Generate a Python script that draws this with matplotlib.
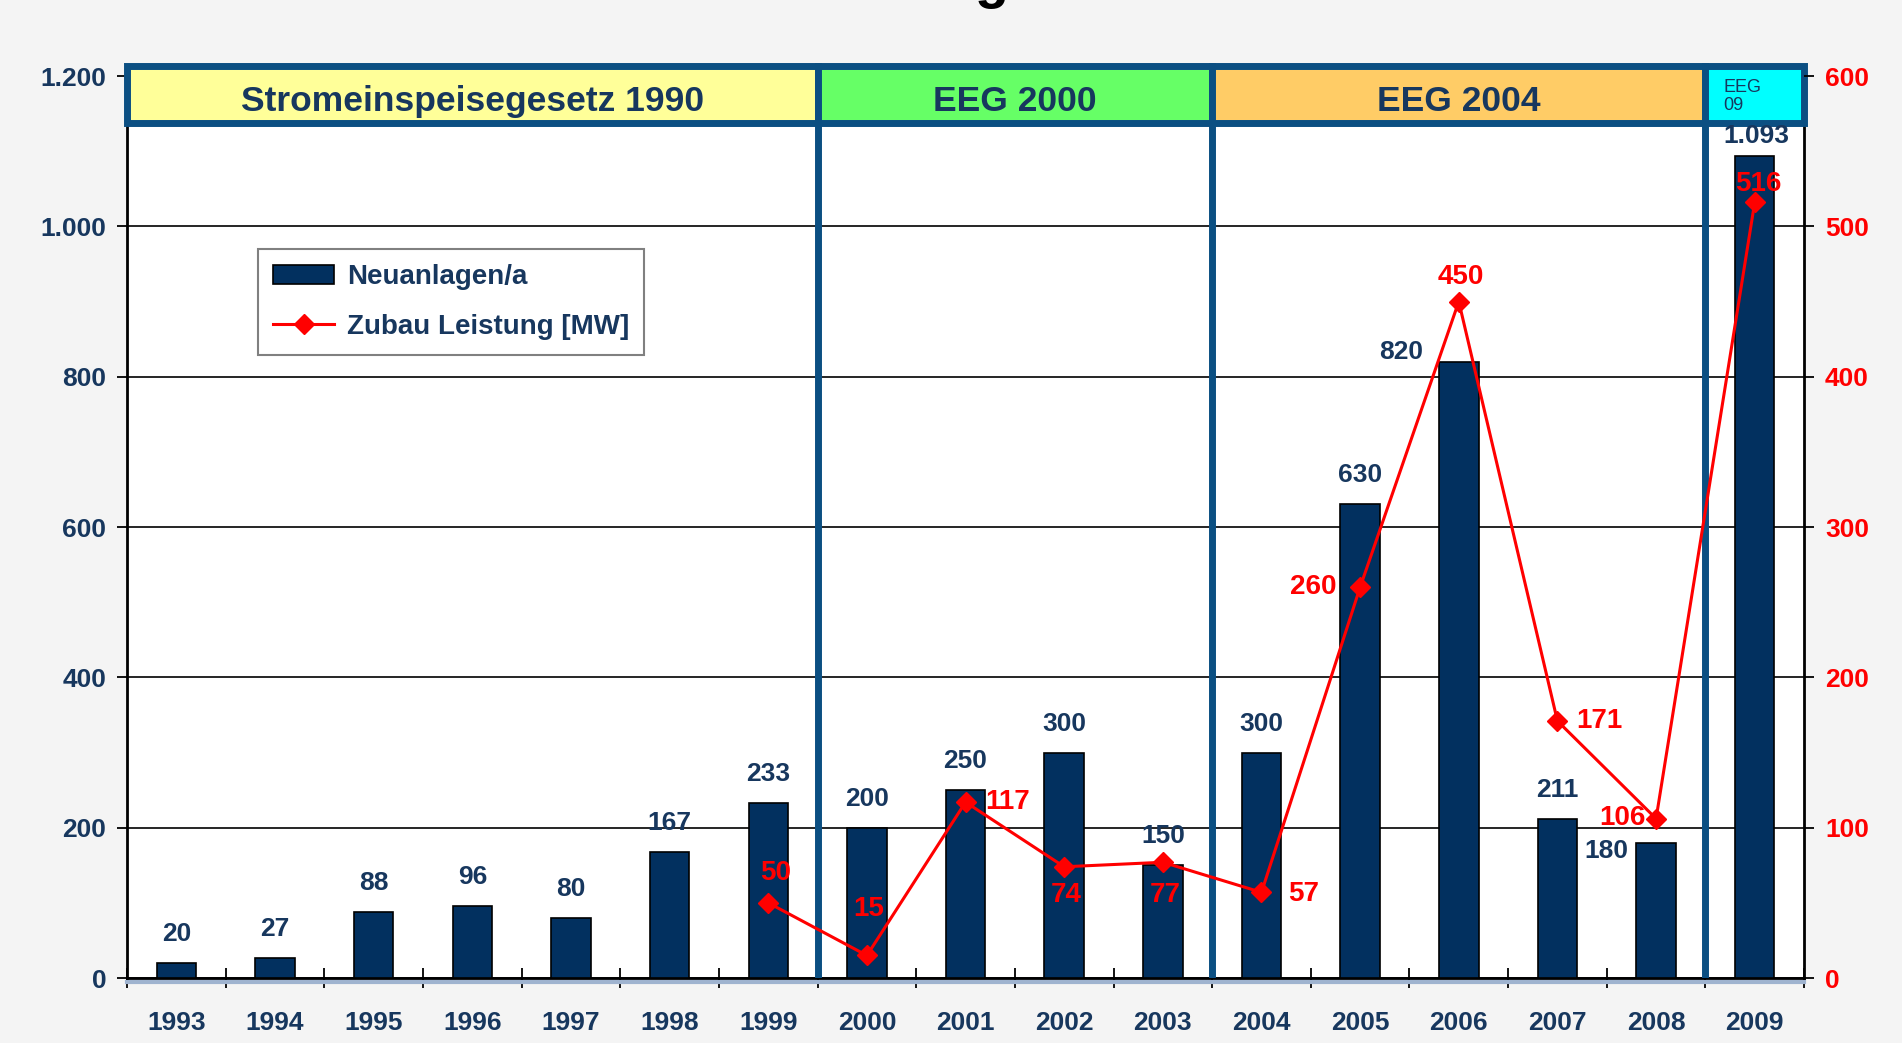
import numpy as np
import matplotlib.pyplot as plt
from matplotlib.patches import Rectangle, Patch
from matplotlib.lines import Line2D
from matplotlib.ticker import FuncFormatter

# data
years = ["1993", "1994", "1995", "1996", "1997", "1998", "1999", "2000", "2001",
         "2002", "2003", "2004", "2005", "2006", "2007", "2008", "2009"]
neuanlagen = [20, 27, 88, 96, 80, 167, 233, 200, 250, 300, 150, 300, 630, 820,
              211, 180, 1093]

zubau_years = ["1999", "2000", "2001", "2002", "2003", "2004", "2005", "2006",
               "2007", "2008", "2009"]
zubau_mw = [50, 15, 117, 74, 77, 57, 260, 450, 171, 106, 516]

phase_labels = ["Stromeinspeisegesetz 1990", "EEG 2000", "EEG 2004", "EEG\n09"]
phase_first = ["1993", "2000", "2004", "2009"]
phase_last = ["1999", "2003", "2008", "2009"]
phase_colors = ["#ffff99", "#66ff66", "#ffcc66", "#00ffff"]

# label placement (pixels, relative to top of bar / marker)
bar_label_off = {"2006": (-58, 10), "2008": (-50, -8), "2009": (2, 20)}
line_label_off = {"1999": (7, 30), "2000": (2, 46), "2001": (42, 0),
                  "2002": (2, -28), "2003": (2, -33), "2004": (42, -2),
                  "2005": (-47, 0), "2006": (2, 25), "2007": (42, 0),
                  "2008": (-34, 1), "2009": (4, 18)}

navy = "#17375e"
bar_col = "#02305f"
border = "#0b4f82"
red = "#ff0000"

plt.rcParams['font.family'] = ['Liberation Sans', 'DejaVu Sans']


def de_fmt(v, pos=None):
    return f"{int(round(v)):,}".replace(",", ".")


fig = plt.figure(figsize=(19.02, 10.43), dpi=100, facecolor="#f4f4f4")
ax = fig.add_axes([0.0668, 0.0623, 0.8817, 0.8648])
ax.set_facecolor("white")

x = np.arange(len(years))
ax.bar(x, neuanlagen, width=0.4, color=bar_col, edgecolor="black",
       linewidth=1.2, zorder=3)
ax.set_xlim(-0.5, len(years) - 0.5)
ax.set_ylim(0, 1200)
ax.set_yticks(np.arange(0, 1201, 200))
ax.yaxis.set_major_formatter(FuncFormatter(de_fmt))
ax.yaxis.grid(True, color="black", linewidth=1.2, zorder=0)
ax.set_axisbelow(True)

# x ticks at category boundaries, labels in the middle
ax.set_xticks(np.arange(-0.5, len(years), 1))
ax.set_xticklabels([])
ax.set_xticks(x, minor=True)
ax.set_xticklabels(years, minor=True, fontsize=19, fontweight="bold", color=navy)
ax.tick_params(axis="x", which="major", direction="inout", length=14, width=1.3)
ax.tick_params(axis="x", which="minor", length=0, pad=24)
ax.tick_params(axis="y", direction="out", length=7, width=1.3, pad=8,
               labelsize=19, labelcolor=navy)
for t in ax.get_yticklabels():
    t.set_fontweight("bold")

for s in ["left", "right", "bottom"]:
    ax.spines[s].set_linewidth(2)
    ax.spines[s].set_color("black")
ax.spines["top"].set_visible(False)
# soft shadow under the base line
ax.plot([0, 1], [-0.004, -0.004], transform=ax.transAxes, color="#9fb3cf",
        linewidth=3, clip_on=False, zorder=1)

# bar value labels
for i, (yr, v) in enumerate(zip(years, neuanlagen)):
    dx, dy = bar_label_off.get(yr, (0, 29))
    ax.annotate(de_fmt(v), (i, v), xytext=(dx, dy),
                textcoords="offset pixels", ha="center", va="center",
                fontsize=19, fontweight="bold", color=navy, zorder=8)

# phase header band
y0, y1 = 1137, 1213
for lab, a, b, c in zip(phase_labels, phase_first, phase_last, phase_colors):
    xa = years.index(a) - 0.5
    xb = years.index(b) + 0.5
    ax.add_patch(Rectangle((xa, y0), xb - xa, y1 - y0, facecolor=c,
                           edgecolor=border, linewidth=5, clip_on=False, zorder=6))
    if "\n" in lab:
        ax.text(xa + 0.18, 1173, lab, ha="left", va="center", fontsize=13,
                color=navy, linespacing=1.1, zorder=7, clip_on=False)
    else:
        ax.text((xa + xb) / 2, 1166, lab, ha="center", va="center", fontsize=25.5,
                fontweight="bold", color=navy, zorder=7, clip_on=False)
    if a != years[0]:
        ax.plot([xa, xa], [0, y0], color=border, linewidth=5, zorder=4,
                solid_capstyle="butt")

# line on secondary axis
ax2 = ax.twinx()
ax2.set_ylim(0, 600)
ax2.set_yticks(np.arange(0, 601, 100))
ax2.tick_params(axis="y", direction="out", length=7, width=1.3, pad=8,
                labelsize=19, labelcolor=red)
for t in ax2.get_yticklabels():
    t.set_fontweight("bold")
for s in ax2.spines.values():
    s.set_visible(False)

xl = [years.index(y) for y in zubau_years]
ax2.plot(xl, zubau_mw, color=red, linewidth=2.2, marker="D", markersize=10,
         zorder=5)
for yr, xi, v in zip(zubau_years, xl, zubau_mw):
    ax2.annotate(str(v), (xi, v), xytext=line_label_off[yr],
                 textcoords="offset pixels", ha="center", va="center",
                 fontsize=20, fontweight="bold", color=red, zorder=6)

# legend
handles = [Patch(facecolor=bar_col, edgecolor="black", linewidth=1.2),
           Line2D([0], [0], color=red, linewidth=2.2, marker="D", markersize=10)]
leg = ax2.legend(handles, ["Neuanlagen/a", "Zubau Leistung [MW]"],
                 loc="upper left", bbox_to_anchor=(0.078, 0.808),
                 frameon=True, fancybox=False, framealpha=1, edgecolor="#808080",
                 prop={"size": 20, "weight": "bold"}, labelcolor=navy,
                 handlelength=2.2, handletextpad=0.45, borderpad=0.55,
                 labelspacing=0.85, borderaxespad=0)
leg.get_frame().set_linewidth(1.5)

# cut-off title at the top edge
fig.text(992 / 1902, 1.0 + 3 / 1043, "g", ha="center", va="baseline",
         fontsize=40, fontweight="bold", color="black")

fig.savefig("out.png", dpi=100, facecolor=fig.get_facecolor())
